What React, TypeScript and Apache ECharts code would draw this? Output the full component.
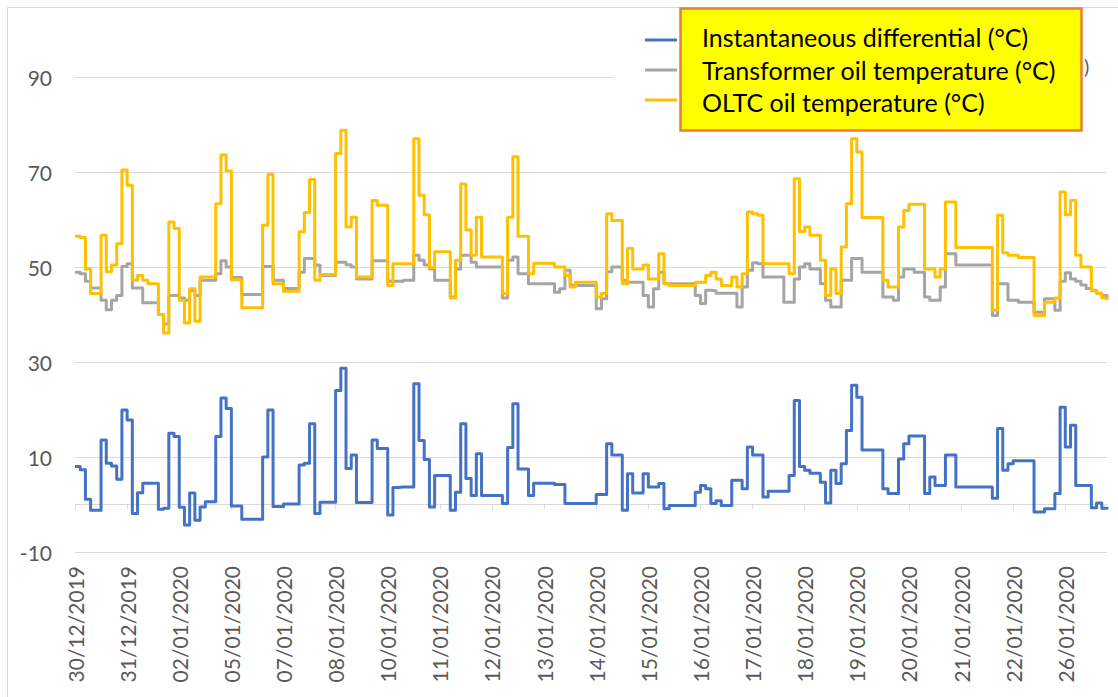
import React, { useEffect, useRef } from "react";
import * as echarts from "echarts";

const tickLabels = [
  "30/12/2019", "31/12/2019", "02/01/2020", "05/01/2020", "07/01/2020",
  "08/01/2020", "10/01/2020", "11/01/2020", "12/01/2020", "13/01/2020",
  "14/01/2020", "15/01/2020", "16/01/2020", "17/01/2020", "18/01/2020",
  "19/01/2020", "20/01/2020", "21/01/2020", "22/01/2020", "26/01/2020",
];
const POINTS_PER_LABEL = 10;

const differential = [
  8.0, 7.3, 1.1, -1.2, -1.2, 13.6, 8.7, 8.1, 5.3, 19.9,
  17.8, -1.9, 2.5, 4.5, 4.5, 4.5, -1.0, -0.8, 15.0, 14.3,
  -0.6, -4.3, 2.4, -3.3, -0.5, 0.6, 0.6, 14.3, 22.4, 20.2,
  -0.3, -0.3, -3.1, -3.1, -3.1, -3.1, 10.0, 19.9, -0.4, -0.4,
  0.1, 0.1, 0.1, 8.3, 8.7, 17.0, -1.9, 0.5, 0.5, 0.5,
  24.0, 28.7, 7.6, 10.4, 0.4, 0.4, 0.4, 13.6, 11.8, 11.8,
  -2.2, 3.6, 3.7, 3.7, 3.7, 25.4, 13.5, 9.5, -0.5, 6.1,
  6.1, 6.1, -1.2, 2.6, 17.0, 5.5, 1.9, 10.7, 1.9, 1.9,
  1.9, 1.9, 0.2, 12.0, 21.2, 7.5, 7.5, 1.9, 4.5, 4.5,
  4.5, 4.5, 4.2, 4.2, 0.2, 0.2, 0.2, 0.2, 0.2, 0.2,
  2.1, 2.1, 12.8, 10.4, 10.4, -1.2, 6.5, 2.4, 2.4, 6.5,
  3.7, 3.7, 4.4, -0.9, -0.2, -0.2, -0.2, -0.2, -0.2, 2.6,
  4.0, 3.3, 0.2, 0.8, -0.2, -0.2, 5.1, 5.1, 3.3, 12.1,
  10.4, 10.4, 1.6, 2.8, 2.8, 2.8, 2.8, 6.1, 21.9, 8.0,
  7.2, 6.6, 6.6, 4.7, 0.3, 7.2, 4.4, 8.6, 15.6, 25.1,
  22.6, 11.5, 11.5, 11.5, 11.5, 3.3, 2.3, 2.3, 9.6, 12.8,
  14.4, 14.4, 14.4, 2.3, 5.8, 4.0, 4.0, 10.4, 10.4, 3.7,
  3.7, 3.7, 3.7, 3.7, 3.7, 3.7, 1.3, 16.0, 7.2, 8.6,
  9.2, 9.2, 9.2, 9.2, -1.6, -1.6, -0.9, -0.9, 2.3, 20.5,
  12.1, 16.7, 4.0, 4.0, 4.0, -0.7, 0.3, -0.8, -0.5,
];

const transformerOil = [
  48.9, 48.6, 47.0, 45.6, 45.6, 43.0, 41.0, 43.0, 44.0, 50.1,
  50.7, 45.6, 45.6, 42.5, 42.5, 42.5, 40.0, 38.0, 44.0, 44.0,
  43.5, 43.0, 45.0, 44.0, 47.2, 47.2, 47.2, 48.6, 51.3, 50.0,
  47.8, 47.8, 44.2, 44.2, 44.2, 44.2, 50.1, 50.1, 47.2, 47.2,
  45.5, 45.5, 45.5, 48.9, 51.8, 51.8, 50.4, 48.2, 48.2, 48.2,
  51.0, 51.0, 50.5, 50.0, 47.5, 47.5, 47.5, 51.3, 51.3, 51.3,
  47.0, 47.0, 47.0, 47.2, 47.2, 52.5, 51.4, 50.4, 49.6, 47.2,
  47.2, 47.2, 43.7, 49.6, 52.5, 52.5, 51.0, 50.0, 50.0, 50.0,
  50.0, 50.0, 43.5, 51.4, 52.1, 48.6, 48.6, 46.5, 46.5, 46.5,
  46.5, 46.5, 44.7, 45.4, 49.3, 46.2, 46.1, 46.1, 46.1, 46.1,
  41.2, 43.3, 49.0, 50.0, 50.0, 47.2, 46.8, 46.8, 46.8, 44.0,
  41.6, 45.4, 48.9, 46.5, 46.5, 46.5, 46.5, 46.5, 46.5, 44.0,
  42.3, 45.1, 45.0, 44.5, 44.5, 44.5, 44.5, 41.6, 45.8, 49.3,
  50.9, 50.7, 47.9, 47.9, 47.9, 47.9, 42.6, 42.6, 47.5, 50.0,
  50.7, 49.6, 49.6, 46.5, 43.0, 41.6, 41.6, 47.2, 47.2, 51.8,
  51.8, 48.9, 48.9, 48.9, 48.9, 43.7, 43.7, 43.0, 47.9, 49.6,
  49.6, 48.9, 48.9, 43.7, 43.0, 43.0, 45.8, 52.8, 52.8, 50.4,
  50.4, 50.4, 50.4, 50.4, 50.4, 50.4, 39.8, 46.5, 46.5, 43.0,
  43.0, 42.6, 42.6, 42.6, 40.5, 40.5, 43.3, 43.3, 40.9, 47.0,
  48.8, 47.5, 47.0, 46.2, 45.5, 45.0, 44.5, 44.0, 43.5,
];

const oltcOil = [
  56.5, 56.2, 49.6, 44.4, 44.4, 56.7, 49.0, 50.4, 54.9, 70.4,
  67.2, 47.2, 48.2, 47.2, 46.5, 46.5, 40.0, 36.1, 59.5, 58.1,
  43.0, 38.2, 45.4, 38.6, 47.9, 47.9, 47.9, 63.3, 73.6, 70.2,
  47.3, 47.3, 41.4, 41.4, 41.4, 41.4, 58.8, 69.5, 46.5, 46.5,
  44.9, 44.9, 44.9, 57.4, 61.5, 68.4, 47.2, 48.4, 48.4, 48.4,
  73.9, 78.8, 58.4, 60.5, 47.9, 47.9, 47.9, 64.0, 63.0, 63.0,
  46.1, 50.7, 50.7, 50.7, 50.7, 77.0, 65.1, 61.0, 49.9, 53.2,
  53.2, 53.2, 43.5, 51.4, 67.5, 57.8, 52.5, 60.5, 52.1, 52.1,
  52.1, 52.1, 44.4, 60.5, 73.2, 56.5, 56.5, 48.6, 50.8, 50.8,
  50.8, 50.8, 50.0, 50.0, 48.2, 45.8, 46.8, 46.8, 46.8, 46.8,
  43.7, 44.4, 61.2, 59.8, 59.8, 46.5, 53.9, 49.6, 49.6, 50.4,
  47.5, 47.5, 52.8, 46.5, 46.1, 46.1, 46.1, 46.1, 46.1, 46.8,
  46.8, 48.2, 48.9, 47.5, 46.1, 46.1, 47.9, 45.8, 48.6, 61.6,
  61.2, 60.9, 50.7, 50.7, 50.7, 50.7, 50.7, 48.6, 68.6, 57.5,
  58.4, 56.7, 56.7, 51.4, 44.0, 49.6, 44.4, 54.2, 63.3, 77.0,
  74.2, 60.4, 60.4, 60.4, 60.4, 47.2, 45.8, 45.8, 58.4, 61.9,
  63.2, 63.2, 63.2, 49.6, 49.6, 47.9, 49.6, 63.7, 63.7, 54.1,
  54.1, 54.1, 54.1, 54.1, 54.1, 54.1, 40.9, 60.9, 53.0, 52.5,
  52.5, 52.0, 52.0, 52.0, 39.8, 39.8, 42.6, 42.6, 43.5, 65.8,
  61.0, 64.0, 52.5, 50.0, 50.0, 45.1, 44.4, 43.5, 43.0,
];

const seriesNames = [
  "Differential (°C)",
  "Transformer oil temperature (°C)",
  "Tap changer oil temperature (°C)",
];
const boxLabels = [
  "Instantaneous differential (°C)",
  "Transformer oil temperature (°C)",
  "OLTC oil temperature (°C)",
];

const categories = differential.map(
  (_, i) => `${tickLabels[Math.floor(i / POINTS_PER_LABEL)]} #${i % POINTS_PER_LABEL}`
);

const FONT = "Lato, 'Liberation Sans', sans-serif";

export default function App() {
  const ref = useRef<HTMLDivElement>(null);
  useEffect(() => {
    if (!ref.current) return;
    const chart = echarts.init(ref.current, undefined, { renderer: "svg" });
    const colors = ["#4472C4", "#A5A5A5", "#FFC000"];
    const values = [differential, transformerOil, oltcOil];
    chart.setOption({
      animation: false,
      backgroundColor: "#ffffff",
      textStyle: { fontFamily: FONT },
      grid: { left: 75, right: 11, top: 77, bottom: 145, containLabel: false },
      legend: {
        orient: "vertical",
        left: 640,
        top: 25,
        z: 6,
        icon: "rect",
        itemWidth: 32,
        itemHeight: 3,
        itemGap: 10,
        textStyle: {
          fontSize: 20,
          color: "#595959",
          fontFamily: FONT,
          width: 13,
          overflow: "truncate",
          ellipsis: "",
        },
        data: seriesNames,
      },
      xAxis: {
        type: "category",
        boundaryGap: false,
        data: categories,
        axisLine: { lineStyle: { color: "#D9D9D9", width: 1 } },
        axisTick: {
          show: true,
          interval: POINTS_PER_LABEL - 1,
          length: 5,
          lineStyle: { color: "#D9D9D9" },
        },
        axisLabel: {
          interval: POINTS_PER_LABEL - 1,
          rotate: 90,
          margin: 14,
          fontSize: 21,
          color: "#595959",
          fontFamily: FONT,
          formatter: (v: string) => v.split(" ")[0],
        },
        splitLine: { show: false },
      },
      yAxis: {
        type: "value",
        min: -10,
        max: 90,
        interval: 20,
        axisLine: { show: false },
        axisTick: { show: false },
        axisLabel: { fontSize: 21, color: "#595959", margin: 23, fontFamily: FONT },
        splitLine: { lineStyle: { color: "#D9D9D9", width: 1 } },
      },
      series: seriesNames.map((name, k) => ({
        name,
        type: "line",
        step: "end",
        data: values[k],
        showSymbol: false,
        symbol: "none",
        color: colors[k],
        lineStyle: { color: colors[k], width: 3, join: "round" },
        z: 2 + k,
      })),
      graphic: [
        {
          type: "rect",
          z: 0,
          silent: true,
          shape: { x: 7.5, y: 7.5, width: 1120, height: 700 },
          style: { fill: "none", stroke: "#D9D9D9", lineWidth: 1 },
        },
        {
          type: "rect",
          z: 5,
          silent: true,
          shape: { x: 613, y: 18, width: 497, height: 100 },
          style: { fill: "#ffffff" },
        },
        {
          type: "text",
          z: 6,
          silent: true,
          x: 1084,
          y: 66,
          style: {
            text: ")",
            fill: "#595959",
            fontSize: 20,
            fontFamily: FONT,
            verticalAlign: "middle",
            align: "left",
          },
        },
        {
          type: "rect",
          z: 10,
          silent: true,
          shape: { x: 680.5, y: 8.5, width: 401, height: 122 },
          style: { fill: "#FFFF00", stroke: "#ED7D31", lineWidth: 2.5 },
        },
        ...boxLabels.map((t, i) => ({
          type: "text",
          z: 11,
          silent: true,
          x: 702,
          y: 37 + i * 32.5,
          style: {
            text: t,
            fill: "#000000",
            fontSize: 25,
            fontFamily: FONT,
            verticalAlign: "middle",
            align: "left",
          },
        })),
      ],
    });
    return () => chart.dispose();
  }, []);
  return (
    <div
      ref={ref}
      style={{ position: "absolute", left: 0, top: 0, width: 1118, height: 697 }}
    />
  );
}
